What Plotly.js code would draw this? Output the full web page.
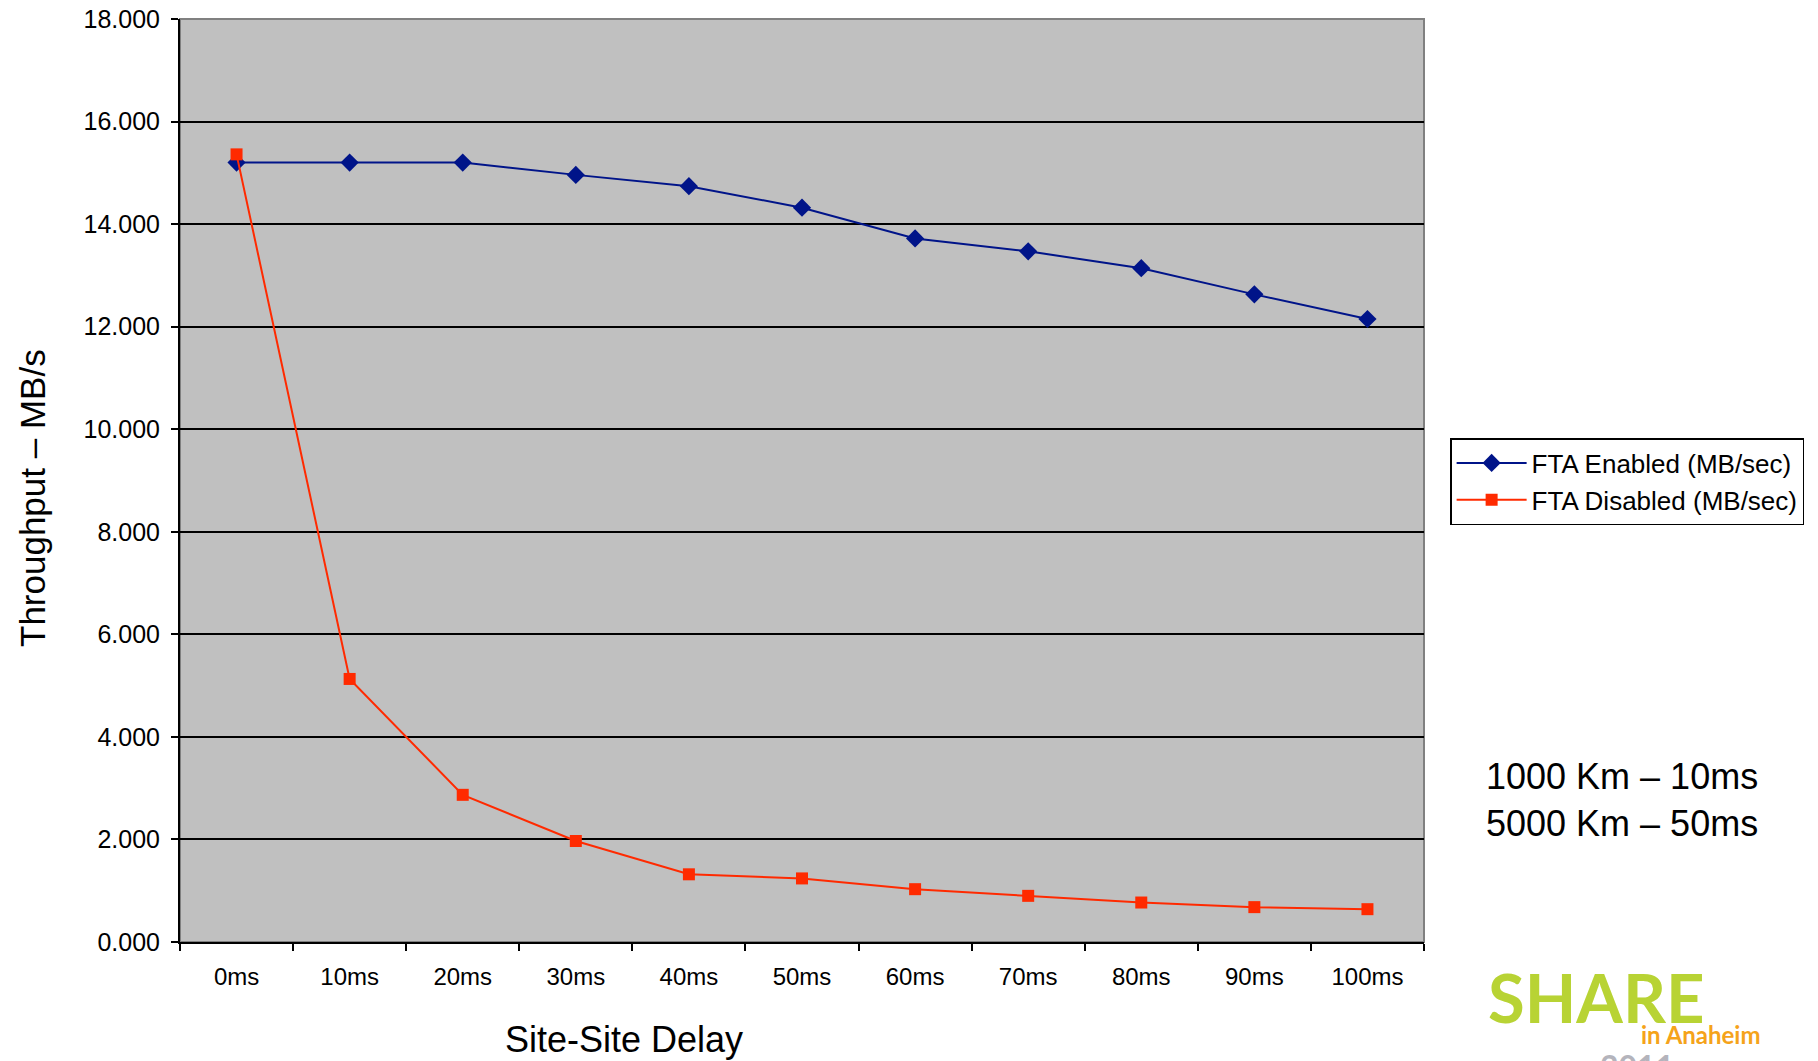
<!DOCTYPE html>
<html>
<head>
<meta charset="utf-8">
<script src="https://cdn.plot.ly/plotly-3.0.1.min.js"></script>
<style>html,body{margin:0;padding:0;background:#fff;}#chart{width:1818px;height:1061px;}</style>
</head>
<body>
<div id="chart"></div>
<script>
const categories = ["0ms","10ms","20ms","30ms","40ms","50ms","60ms","70ms","80ms","90ms","100ms"];
const ftaEnabled = [15.20,15.20,15.20,14.96,14.74,14.32,13.72,13.47,13.14,12.63,12.15];
const ftaDisabled = [15.36,5.13,2.87,1.97,1.32,1.24,1.03,0.90,0.77,0.68,0.64];
const yTicks = [0,2,4,6,8,10,12,14,16,18];

const font = "Liberation Sans, Arial, sans-serif";

const traces = [
  {x: categories, y: ftaEnabled, name: "FTA Enabled (MB/sec)", type: "scatter", mode: "lines+markers",
   line: {color: "#001489", width: 2}, marker: {symbol: "diamond", size: 14, color: "#001489"}},
  {x: categories, y: ftaDisabled, name: "FTA Disabled (MB/sec)", type: "scatter", mode: "lines+markers",
   line: {color: "#ff2a00", width: 2}, marker: {symbol: "square", size: 12, color: "#ff2a00"}}
];

const layout = {
  width: 1818, height: 1061,
  margin: {l: 180, r: 394, t: 19, b: 119},
  paper_bgcolor: "#ffffff", plot_bgcolor: "#c0c0c0",
  showlegend: true,
  legend: {x: 1.021, y: 0.546, xanchor: "left", yanchor: "top", bgcolor: "#ffffff",
           bordercolor: "#000000", borderwidth: 1.5, font: {family: font, size: 26, color: "#000"},
           itemwidth: 70, tracegroupgap: 4},
  xaxis: {type: "category", range: [-0.5, 10.5], showgrid: false, zeroline: false,
          showline: true, linecolor: "#000", linewidth: 2, ticks: "outside", ticklen: 7, tickwidth: 2,
          tickcolor: "#000", tickson: "boundaries", ticklabelstandoff: 12,
          tickfont: {family: font, size: 24, color: "#000"}, fixedrange: true},
  yaxis: {range: [0, 18], tickvals: yTicks, tickformat: ".3f", showgrid: true, gridcolor: "#000",
          gridwidth: 2, zeroline: false, showline: true, linecolor: "#000", linewidth: 2,
          ticks: "outside", ticklen: 7, tickwidth: 2, tickcolor: "#000", ticklabelstandoff: 6,
          tickfont: {family: font, size: 25, color: "#000"}, fixedrange: true},
  shapes: [
    {type: "rect", xref: "paper", yref: "paper", x0: 0, x1: 1, y0: 0, y1: 1,
     line: {color: "#808080", width: 2}, fillcolor: "rgba(0,0,0,0)", layer: "below"}
  ],
  annotations: [
    {text: "Throughput – MB/s", xref: "paper", yref: "paper", x: -0.119, y: 0.481, textangle: -90,
     showarrow: false, font: {family: font, size: 35, color: "#000"}, xanchor: "center", yanchor: "middle"},
    {text: "Site-Site Delay", xref: "paper", yref: "paper", x: 0.357, y: -0.106,
     showarrow: false, font: {family: font, size: 36, color: "#000"}, xanchor: "center", yanchor: "middle"},
    {text: "1000 Km – 10ms<br>5000 Km – 50ms", xref: "paper", yref: "paper", x: 1.159, y: 0.154,
     showarrow: false, font: {family: font, size: 36, color: "#000"}, xanchor: "center", yanchor: "middle"},
    {text: "<b>SHARE</b>", xref: "paper", yref: "paper", x: 1.139, y: -0.060,
     showarrow: false, font: {family: "Lato, Roboto, sans-serif", size: 67, color: "#b8d334"}, xanchor: "center", yanchor: "middle"},
    {text: "<b>in Anaheim</b>", xref: "paper", yref: "paper", x: 1.2227, y: -0.1005,
     showarrow: false, font: {family: "Lato, Roboto, sans-serif", size: 24, color: "#f5a31a"}, xanchor: "center", yanchor: "middle"},
    {text: "<b>2011</b>", xref: "paper", yref: "paper", x: 1.171, y: -0.1116,
     showarrow: false, font: {family: "Lato, Roboto, sans-serif", size: 32, color: "#b4b4bc"}, xanchor: "center", yanchor: "top"}
  ]
};

Plotly.newPlot("chart", traces, layout, {displayModeBar: false, staticPlot: true});
</script>
</body>
</html>
